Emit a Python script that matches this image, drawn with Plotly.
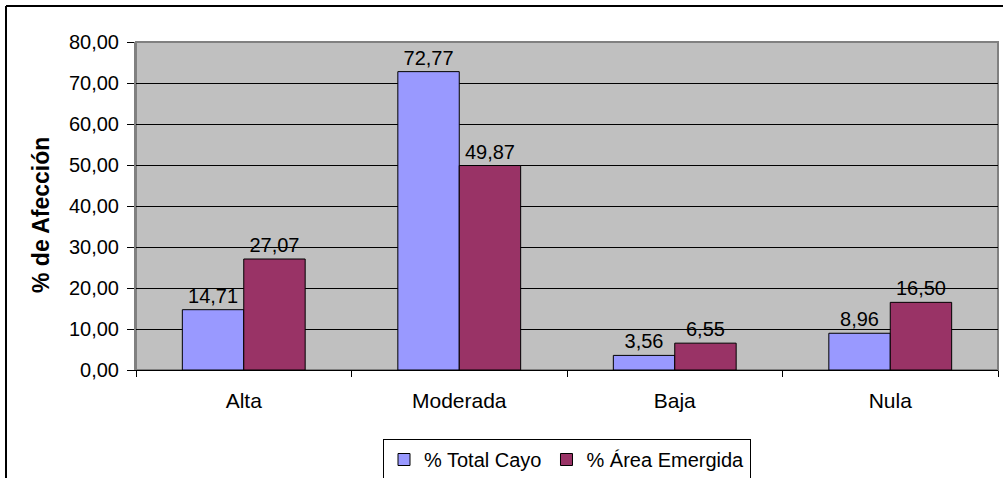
import plotly.graph_objects as go

categories = ["Alta", "Moderada", "Baja", "Nula"]
total_cayo = [14.71, 72.77, 3.56, 8.96]
area_emergida = [27.07, 49.87, 6.55, 16.50]
series_names = ["% Total Cayo", "% Área Emergida"]
y_ticks = [0, 10, 20, 30, 40, 50, 60, 70, 80]

FONT = "Liberation Sans, Arial, sans-serif"
W, H = 1003, 478
L, R, T, B = 136, 5, 42, 108
PW, PH = W - L - R, H - T - B


def fmt(v):
    return f"{v:.2f}".replace(".", ",")


def px_to_paper(x, y):
    return (x - L) / PW, 1 - (y - T) / PH


fig = go.Figure()
for name, vals, color in [
    (series_names[0], total_cayo, "#9999FF"),
    (series_names[1], area_emergida, "#993366"),
]:
    fig.add_trace(
        go.Bar(
            name=name,
            x=categories,
            y=vals,
            marker=dict(color=color, line=dict(color="#000000", width=1)),
            text=[fmt(v) for v in vals],
            textposition="outside",
            textfont=dict(family=FONT, size=20, color="#000000"),
            cliponaxis=False,
        )
    )

x0, y0 = px_to_paper(6, 6)
x1, _ = px_to_paper(W + 5, 6)
_, y1 = px_to_paper(6, H + 5)
tx, ty = px_to_paper(41, 215)

fig.update_layout(
    width=W,
    height=H,
    margin=dict(l=L, r=R, t=T, b=B),
    paper_bgcolor="#FFFFFF",
    plot_bgcolor="#C0C0C0",
    separators=",.",
    font=dict(family=FONT, size=20, color="#000000"),
    barmode="group",
    bargap=0.43,
    bargroupgap=0,
    showlegend=True,
    legend=dict(
        orientation="h",
        xref="paper",
        x=0.5,
        xanchor="center",
        yref="container",
        y=1 - 439 / H,
        yanchor="top",
        bgcolor="#FFFFFF",
        bordercolor="#000000",
        borderwidth=1,
        font=dict(family=FONT, size=20),
        itemwidth=30,
        tracegroupgap=0,
    ),
    xaxis=dict(
        showgrid=False,
        showline=True,
        linecolor="#000000",
        linewidth=1,
        ticks="outside",
        tickson="boundaries",
        ticklen=6,
        tickcolor="#000000",
        ticklabelstandoff=12,
        tickfont=dict(family=FONT, size=21),
    ),
    yaxis=dict(
        range=[0, 80],
        tickvals=y_ticks,
        tickformat=".2f",
        showgrid=True,
        gridcolor="#000000",
        gridwidth=1,
        showline=True,
        linecolor="#808080",
        linewidth=2,
        ticks="outside",
        ticklen=7,
        tickcolor="#000000",
        ticklabelstandoff=4,
        tickfont=dict(family=FONT, size=20),
        zeroline=False,
    ),
    annotations=[
        dict(text="<b>% de Afección</b>", xref="paper", yref="paper", x=tx, y=ty,
             xanchor="center", yanchor="middle",
             textangle=-90, showarrow=False, font=dict(family=FONT, size=23)),
    ],
    shapes=[
        dict(type="rect", xref="paper", yref="paper", x0=0, y0=0, x1=1, y1=1,
             line=dict(color="#808080", width=2), layer="below"),
        dict(type="line", xref="paper", yref="paper", x0=x0, y0=y0, x1=x1, y1=y0,
             line=dict(color="#000000", width=2)),
        dict(type="line", xref="paper", yref="paper", x0=x0, y0=y0, x1=x0, y1=y1,
             line=dict(color="#000000", width=2)),
    ],
)

fig.write_html("out.html", config={"displayModeBar": False},
               post_script="document.body.style.margin='0';")
